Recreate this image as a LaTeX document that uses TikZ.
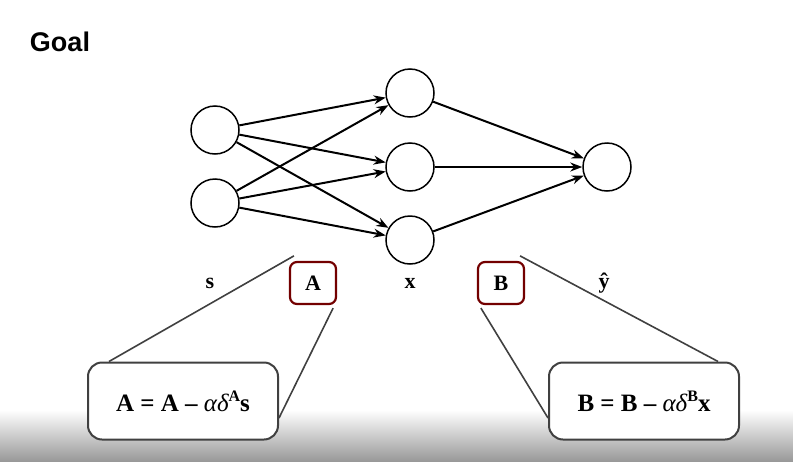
\documentclass[tikz,border=0pt]{standalone}
\usepackage{fontspec}
\setmainfont{Liberation Serif}
\newfontfamily\goalfont{Liberation Sans}
\usetikzlibrary{arrows.meta}
\begin{document}
\begin{tikzpicture}[x=1pt,y=-1pt,
  neuron/.style={circle,draw,line width=1.5pt,minimum size=48pt,inner sep=0pt},
  conn/.style={line width=2pt,-{Stealth[length=12pt,width=9pt]}},
  wbox/.style={draw=red!45!black,line width=2.2pt,rounded corners=7pt,minimum width=46pt,minimum height=42pt,font=\bfseries\fontsize{22}{26}\selectfont},
  eqbox/.style={draw=black!75,line width=2pt,rounded corners=14pt,minimum width=190pt,minimum height=77pt,fill=white,font=\bfseries\fontsize{25}{30}\selectfont},
  lead/.style={draw=black!75,line width=1.6pt},
  lbl/.style={font=\bfseries\fontsize{22}{26}\selectfont}]
\useasboundingbox (0,0) rectangle (793,461);
\shade[top color=white,bottom color=black!40] (0,410) rectangle (793,461);
\node[font=\goalfont\bfseries\fontsize{27}{32}\selectfont] (goal) at (60,42) {Goal};
\node[neuron] (i1) at (215,130) {};
\node[neuron] (i2) at (215,203) {};
\node[neuron] (h1) at (410,93) {};
\node[neuron] (h2) at (410,167) {};
\node[neuron] (h3) at (410,240) {};
\node[neuron] (o) at (607,167) {};
\foreach \i in {i1,i2}{\foreach \h in {h1,h2,h3}{\draw[conn] (\i) -- (\h);}}
\foreach \h in {h1,h2,h3}{\draw[conn] (\h) -- (o);}
\node[lbl] (ls) at (210,283) {s};
\node[lbl] (lx) at (410,283) {x};
\node[lbl] (ly) at (604,283) {ŷ};
\node[wbox] (A) at (313,283) {A};
\node[wbox] (B) at (501,283) {B};
\node[eqbox] (EA) at (183,401) {A = A – {\mdseries\itshape αδ}\raisebox{0.4em}{\fontsize{16}{18}\selectfont A}s};
\node[eqbox] (EB) at (644,401) {B = B – {\mdseries\itshape αδ}\raisebox{0.4em}{\fontsize{16}{18}\selectfont B}x};
\draw[lead] ([xshift=5pt,yshift=5pt]A.north west) -- ([xshift=22pt]EA.north west);
\draw[lead] ([xshift=-4pt,yshift=-3pt]A.south east) -- ([yshift=-17pt]EA.east);
\draw[lead] ([xshift=-5pt,yshift=5pt]B.north east) -- ([xshift=-22pt]EB.north east);
\draw[lead] ([xshift=4pt,yshift=-3pt]B.south west) -- ([yshift=-17pt]EB.west);
\end{tikzpicture}
\end{document}
